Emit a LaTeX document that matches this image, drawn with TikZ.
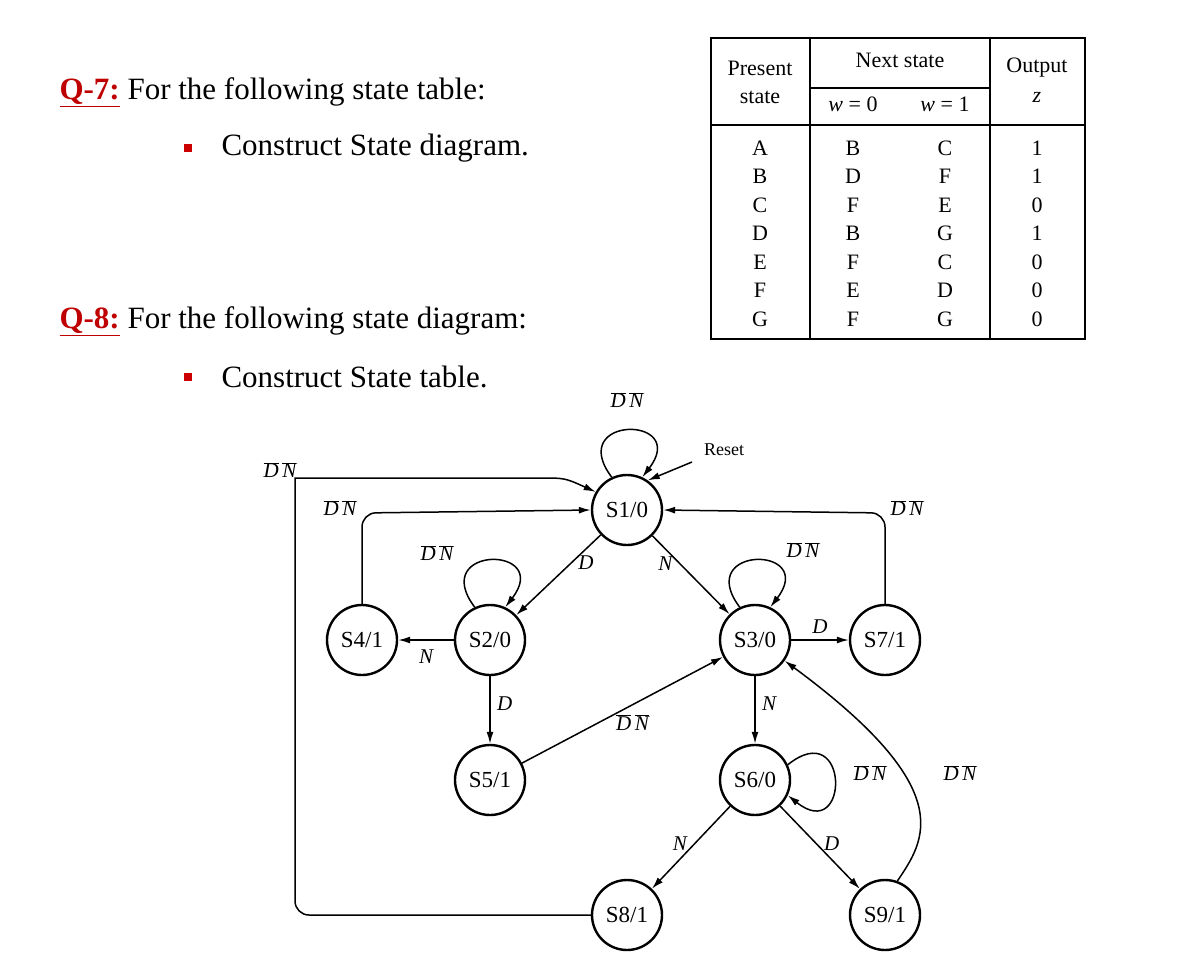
\documentclass[tikz,border=0pt]{standalone}
\usepackage{fontspec}
\setmainfont{Liberation Serif}
\usetikzlibrary{arrows.meta}
\begin{document}
\begin{tikzpicture}[x=1pt,y=-1pt,
 st/.style={circle,draw,line width=2.4pt,minimum size=70pt,inner sep=0pt,font=\fontsize{23}{23}\selectfont},
 tr/.style={-{Latex[length=12pt,width=7pt]},line width=1.5pt},
 lb/.style={font=\fontsize{21}{21}\selectfont\itshape},
 big/.style={font=\fontsize{31}{31}\selectfont,anchor=west},
 tb/.style={font=\fontsize{22}{22}\selectfont}]
\useasboundingbox (0,0) rectangle (1177,979);
% texts
\node[big] (q7) at (56,92) {\textcolor{red!75!black}{\underline{\textbf{Q-7:}}} For the following state table:};
\node[big] (c7) at (218,148) {Construct State diagram.};
\node[fill=red!80!black,minimum size=8pt,inner sep=0pt] (b7) at (188,148) {};
\node[big] (q8) at (56,321) {\textcolor{red!75!black}{\underline{\textbf{Q-8:}}} For the following state diagram:};
\node[big] (c8) at (218,377) {Construct State table.};
\node[fill=red!80!black,minimum size=8pt,inner sep=0pt] (b8) at (188,377) {};
% table
\draw[line width=1.3pt] (711,38) rectangle (1085,339);
\draw[line width=2pt] (711,38) -- (1085,38);
\draw[line width=1.1pt] (810,38) -- (810,339) (990,38) -- (990,339) (711,125) -- (1085,125) (810,88) -- (990,88);
\node[tb] (h1) at (760,68) {Present};
\node[tb] (h2) at (760,97) {state};
\node[tb] (h3) at (900,60) {Next state};
\node[tb] (h4) at (853,104) {\textit{w} = 0};
\node[tb] (h5) at (945,104) {\textit{w} = 1};
\node[tb] (h6) at (1037,68) {Output};
\node[tb] (h7) at (1037,97) {\textit{z}};
\foreach \a/\b/\c/\d [count=\i from 0] in {A/B/C/1,B/D/F/1,C/F/E/0,D/B/G/1,E/F/C/0,F/E/D/0,G/F/G/0}{
 \node[tb] (r\i a) at (760,148+28.5*\i) {\a};
 \node[tb] (r\i b) at (853,148+28.5*\i) {\b};
 \node[tb] (r\i c) at (945,148+28.5*\i) {\c};
 \node[tb] (r\i d) at (1037,148+28.5*\i) {\d};
}
% states
\node[st] (S1) at (627,510) {S1/0};
\node[st] (S2) at (490,640) {S2/0};
\node[st] (S4) at (362,640) {S4/1};
\node[st] (S3) at (755,640) {S3/0};
\node[st] (S7) at (885,640) {S7/1};
\node[st] (S5) at (490,780) {S5/1};
\node[st] (S6) at (755,780) {S6/0};
\node[st] (S8) at (627,915) {S8/1};
\node[st] (S9) at (885,915) {S9/1};
\def\dn{$\overline{\mbox{\itshape D}}\,\overline{\mbox{\itshape N}}$}
% self loops
\draw[tr] (S1.115) .. controls (565,415) and (690,415) .. (S1.65);
\node[lb] (l1) at (627,400) {\dn};
\draw[tr] (S2.115) .. controls (428,545) and (553,545) .. (S2.65);
\node[lb] (l2) at (437,553) {\dn};
\draw[tr] (S3.115) .. controls (693,545) and (818,545) .. (S3.65);
\node[lb] (l3) at (803,550) {\dn};
\draw[tr] (S6.25) .. controls (850,715) and (850,845) .. (S6.-25);
\node[lb] (l6) at (870,773) {\dn};
% reset
\coordinate (rs) at (692,462);
\draw[tr] (rs) -- (S1.55);
\node[font=\fontsize{18}{18}\selectfont] (rl) at (724,450) {Reset};
% returns to S1
\draw[tr] (S8.west) -- (310,915) to[rounded corners=14pt] (295,915) -- (295,478) -- (540,478) .. controls (565,478) .. (S1.150);
\node[lb] (l8) at (280,470) {\dn};
\draw[tr,rounded corners=14pt] (S4.north) -- (362,513) -- (S1.west);
\node[lb] (l4) at (340,508) {\dn};
\draw[tr,rounded corners=14pt] (S7.north) -- (885,513) -- (S1.east);
\node[lb] (l7) at (907,508) {\dn};
% transitions
\draw[tr] (S1) -- node[lb,pos=0.35,right=3pt] (d12) {D} (S2);
\draw[tr] (S1) -- node[lb,pos=0.35,left=3pt] (n13) {N} (S3);
\draw[tr] (S2) -- node[lb,below=6pt] (n24) {N} (S4);
\draw[tr] (S2) -- node[lb,right=3pt,pos=0.4] (d25) {D} (S5);
\draw[tr] (S3) -- node[lb,above=2pt] (d37) {D} (S7);
\draw[tr] (S3) -- node[lb,right=3pt,pos=0.4] (n36) {N} (S6);
\draw[tr] (S5) -- node[lb,pos=0.55,below=6pt] (l53) {\dn} (S3);
\draw[tr] (S6) -- node[lb,pos=0.45,left=4pt] (n68) {N} (S8);
\draw[tr] (S6) -- node[lb,pos=0.45,right=4pt] (d69) {D} (S9);
\draw[tr] (S9.70) .. controls (925,840) and (960,790) .. (S3.-35);
\node[lb] (l9) at (960,773) {\dn};
\end{tikzpicture}
\end{document}
